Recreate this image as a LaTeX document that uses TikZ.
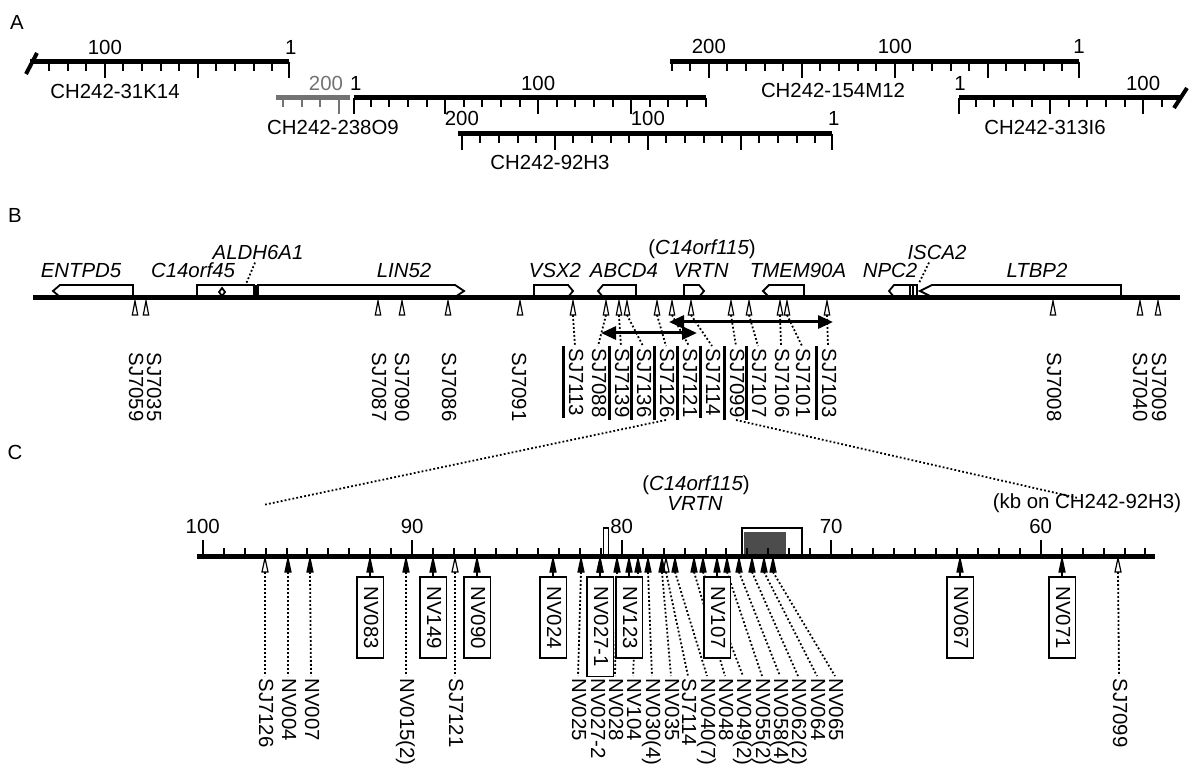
\documentclass[tikz,border=0pt]{standalone}
\usepackage{fontspec}
\setmainfont{Liberation Sans}
\usetikzlibrary{arrows.meta}

\tikzset{
  every node/.style={font=\fontsize{10.2}{12}\selectfont, inner sep=1pt},
  clone/.style={line width=2.5pt},
  tick/.style={line width=1pt},
  gene/.style={draw, fill=white, line width=0.9pt},
  genelab/.style={font=\fontsize{10.2}{12}\selectfont\itshape, anchor=base},
  leader/.style={line width=0.9pt, dash pattern=on 0.9pt off 1.1pt},
  vlab/.style={rotate=-90, anchor=west, text height=7.4pt, text depth=1.6pt},
  vbox/.style={vlab, draw, fill=white, line width=0.9pt, inner xsep=4.75pt, inner ysep=2.2pt},
  opentri/.style={draw, fill=white, line width=0.6pt},
  filltri/.style={draw, fill=black, line width=0.6pt},
  ulbar/.style={line width=1.3pt},
  rangearrow/.style={line width=1.5pt, {Triangle[length=7.5pt,width=6.5pt]}-{Triangle[length=7.5pt,width=6.5pt]}},
}

\begin{document}
\begin{tikzpicture}[x=0.5pt, y=-0.5pt]
\useasboundingbox (0,0) rectangle (1200,775);

% ---------- A: BAC clones ----------
\node (labA) at (17,22) {A};

% CH242-31K14
\begin{scope}[shift={(289,62)}, xscale=-1.86]
  \draw[clone] (0,0) -- (139,0);
  \foreach \k in {10,20,...,130} \draw[tick] (\k-1,0) -- ++(0,9);
  \foreach \k in {1,50,100} \draw[tick] (\k-1,0) -- ++(0,16);
  \node (k31one) at (-1,-15) {1};
  \node (k31hun) at (99,-15) {100};
\end{scope}
\draw[line width=2pt] (26,74) -- (37,53);
\node (n31K14) at (115,91) {CH242-31K14};

% CH242-154M12
\begin{scope}[shift={(1079,62)}, xscale=-1.86]
  \draw[clone] (0,0) -- (220,0);
  \foreach \k in {10,20,...,220} \draw[tick] (\k-1,0) -- ++(0,9);
  \foreach \k in {1,50,100,150,200} \draw[tick] (\k-1,0) -- ++(0,16);
  \node (k154one) at (0,-16) {1};
  \node (k154hun) at (99,-16) {100};
  \node (k154two) at (199,-16) {200};
\end{scope}
\node (n154M12) at (833,90) {CH242-154M12};

% CH242-238O9 (grey end)
\begin{scope}[shift={(339,98)}, xscale=-1.86, black!55]
  \draw[clone] (-6,0) -- (34,0);
  \foreach \k in {10,20,30} \draw[tick] (\k,0) -- ++(0,9);
  \draw[tick] (0,0) -- ++(0,16);
  \node (k238g) at (7,-15) {200};
\end{scope}
\begin{scope}[shift={(354,98)}, xscale=1.86]
  \draw[clone] (0,0) -- (189,0);
  \foreach \k in {10,20,...,190} \draw[tick] (\k-1,0) -- ++(0,9);
  \foreach \k in {1,50,100,150} \draw[tick] (\k-1,0) -- ++(0,16);
  \node (k238one) at (1,-15) {1};
  \node (k238hun) at (99,-15) {100};
\end{scope}
\node (n238O9) at (333,127) {CH242-238O9};

% CH242-313I6
\begin{scope}[shift={(959,98)}, xscale=1.86]
  \draw[clone] (0,0) -- (119,0);
  \foreach \k in {10,20,...,110} \draw[tick] (\k-1,0) -- ++(0,9);
  \foreach \k in {1,50,100} \draw[tick] (\k-1,0) -- ++(0,16);
  \node (k313one) at (0.5,-15) {1};
  \node (k313hun) at (99,-15) {100};
\end{scope}
\draw[line width=2pt] (1174,108) -- (1187,88);
\node (n313I6) at (1045,127) {CH242-313I6};

% CH242-92H3
\begin{scope}[shift={(832,134)}, xscale=-1.86]
  \draw[clone] (0,0) -- (201,0);
  \foreach \k in {10,20,...,200} \draw[tick] (\k-1,0) -- ++(0,9);
  \foreach \k in {1,50,100,150,200} \draw[tick] (\k-1,0) -- ++(0,16);
  \node (k92one) at (-1,-16) {1};
  \node (k92hun) at (99,-16) {100};
  \node (k92two) at (199,-16) {200};
\end{scope}
\node (n92H3) at (550,162) {CH242-92H3};

% ---------- B: genes and markers ----------
\node (labB) at (15,215) {B};

\draw[gene] (133,297) -- (133,285) -- (60,285) -- (53,291) -- (60,297);   % ENTPD5
\draw[gene] (197,297) -- (197,285) -- (254,285) -- (254,297);             % C14orf45
\draw[gene] (219,292) -- (222,288) -- (225,292) -- (222,296) -- cycle;
\fill (254,285) rectangle (258,297);                                       % ALDH6A1
\draw[gene] (258,297) -- (258,285) -- (455,285) -- (464,291) -- (455,297); % LIN52
\draw[gene] (534,297) -- (534,285) -- (568,285) -- (573,291) -- (568,297); % VSX2
\draw[gene] (636,297) -- (636,285) -- (603,285) -- (598,291) -- (603,297); % ABCD4
\draw[gene] (684,297) -- (684,285) -- (699,285) -- (704,291) -- (699,297); % VRTN
\draw[gene] (804,297) -- (804,285) -- (769,285) -- (763,291) -- (769,297); % TMEM90A
\draw[gene] (910,297) -- (910,285) -- (894,285) -- (889,291) -- (894,297); % NPC2
\draw[gene] (910,285) rectangle (917,297);                                 % ISCA2
\draw[line width=1.2pt] (913,285) -- (913,297);
\draw[gene] (1121,297) -- (1121,285) -- (932,285) -- (920,291) -- (932,297); % LTBP2

\draw[clone] (33,298) -- (1180,298);

\node[genelab] (gENTPD5) at (81,278) {ENTPD5};
\node[genelab] (gC14orf45) at (193,278) {C14orf45};
\node[genelab] (gALDH) at (258,260) {ALDH6A1};
\node[genelab] (gLIN52) at (404,278) {LIN52};
\node[genelab] (gVSX2) at (555,278) {VSX2};
\node[genelab] (gABCD4) at (624,278) {ABCD4};
\node[genelab] (gVRTN) at (701,278) {VRTN};
\node[genelab] (gC14orf115) at (702,255) {\upshape(\itshape C14orf115\upshape)};
\node[genelab] (gTMEM) at (798,278) {TMEM90A};
\node[genelab] (gNPC2) at (890,278) {NPC2};
\node[genelab] (gISCA) at (937,260) {ISCA2};
\node[genelab] (gLTBP2) at (1037,278) {LTBP2};

\coordinate (aldhpt) at (246,284);
\coordinate (iscapt) at (919,283);
\draw[leader] ([xshift=-1.5pt]gALDH.south) -- (aldhpt);
\draw[leader] ([xshift=-4pt]gISCA.south) -- (iscapt);

% SJ markers
\foreach \x/\n in {135/7059,146/7035,378/7087,402/7090,448/7086,520/7091,1053/7008,1140/7040,1158/7009,
  573/7113,606/7088,619/7139,627/7136,657/7126,672/7121,691/7114,731/7099,749/7107,780/7106,787/7101,827/7103} {
  \coordinate (sj\n) at (\x,301);
  \draw[opentri] (sj\n) -- ++(-2.7,14) -- ++(5.4,0) -- cycle;
  \coordinate (sjb\n) at (\x,315);
}
\foreach \x/\n in {135/7059,153/7035,378/7087,401/7090,448/7086,518/7091,1053/7008,1139/7040,1158/7009}
  \node[vlab] (l\n) at (\x,350) {SJ\n};
\foreach \x/\n in {575/7113,598/7088,621/7139,643/7136,666/7126,689/7121,712/7114,736/7099,758/7107,781/7106,802/7101,828/7103} {
  \node[vlab] (l\n) at (\x,346) {SJ\n};
  \draw[leader] (sjb\n) -- (l\n.west);
}
\foreach \n in {7113,7139,7136,7126,7121,7114,7099,7107,7103}
  \draw[ulbar] (l\n.south west) -- (l\n.south east);

\coordinate (rng1a) at (601,333);
\coordinate (rng1b) at (697,333);
\coordinate (rng2a) at (669,322);
\coordinate (rng2b) at (833,322);
\draw[rangearrow] (rng1a) -- (rng1b);
\draw[rangearrow] (rng2a) -- (rng2b);

% ---------- C: VRTN region ----------
\node (labC) at (15,452) {C};

\coordinate (zoomL) at (263,505);
\coordinate (zoomR) at (1078,498);
\draw[leader] (l7126.east) -- (zoomL);
\draw[leader] (l7099.east) -- (zoomR);

\node[genelab] (cC14orf115) at (696,490) {\upshape(\itshape C14orf115\upshape)};
\node[genelab] (cVRTN) at (695,510) {VRTN};
\node[anchor=base] (kbnote) at (1087,508) {(kb on CH242-92H3)};

\draw[line width=0.9pt, fill=white] (603.5,528) rectangle (608.5,556);
\fill[black!70] (744,532) rectangle (786,556);
\draw[line width=1pt] (742,556) -- (742,528) -- (802,528) -- (802,556);

\draw[clone] (197,556) -- (1155,556);
\begin{scope}[shift={(202.7,556)}, xscale=-20.95]
  \foreach \k in {55,...,99} \draw[tick] (\k-100,0) -- ++(0,-8);
  \foreach \k in {60,70,80,90,100} {
    \draw[tick] (\k-100,0) -- ++(0,-16);
    \node (kb\k) at (\k-100,-30) {\k};
  }
\end{scope}

% SJ markers
\foreach \x/\lx/\n in {265/265/7126, 455/455/7121, 666/688/7114, 1118/1119/7099} {
  \coordinate (c\n) at (\x,558);
  \draw[opentri] (c\n) -- ++(-3,14) -- ++(6,0) -- cycle;
  \coordinate (cb\n) at (\x,572);
  \node[vlab] (cl\n) at (\lx,676) {SJ\n};
  \draw[leader] (cb\n) -- (cl\n.west);
}

% NV markers, plain labels
\foreach \x/\lx/\n/\t in {288/288/004/{NV004}, 310/311/007/{NV007}, 406/406/015/{NV015(2)},
  581/578/025/{NV025}, 600/597/0272/{NV027-2}, 617/615/028/{NV028}, 638/633/104/{NV104},
  648/652/030/{NV030(4)}, 662/671/035/{NV035}, 675/707/040/{NV040(7)}, 694/725/048/{NV048},
  703/743/049/{NV049(2)}, 727/762/055/{NV055(2)}, 739/780/058/{NV058(4)}, 752/798/062/{NV062(2)},
  764/817/064/{NV064}, 773/835/065/{NV065}} {
  \coordinate (nv\n) at (\x,558);
  \draw[filltri] (nv\n) -- ++(-3,14) -- ++(6,0) -- cycle;
  \coordinate (nvb\n) at (\x,572);
  \node[vlab] (nl\n) at (\lx,676) {\t};
  \draw[leader] (nvb\n) -- (nl\n.west);
}

% NV markers, boxed labels
\foreach \x/\n/\t in {370/083/{NV083}, 433/149/{NV149}, 477/090/{NV090}, 553/024/{NV024},
  600/0271/{NV027-1}, 629/123/{NV123}, 717/107/{NV107}, 960/067/{NV067}, 1062/071/{NV071}} {
  \coordinate (nv\n) at (\x,558);
  \draw[filltri] (nv\n) -- ++(-3,14) -- ++(6,0) -- cycle;
  \coordinate (nvb\n) at (\x,572);
  \node[vbox] (nb\n) at (\x,576) {\t};
  \draw[tick] (nvb\n) -- (nb\n.west);
}

\end{tikzpicture}
\end{document}
